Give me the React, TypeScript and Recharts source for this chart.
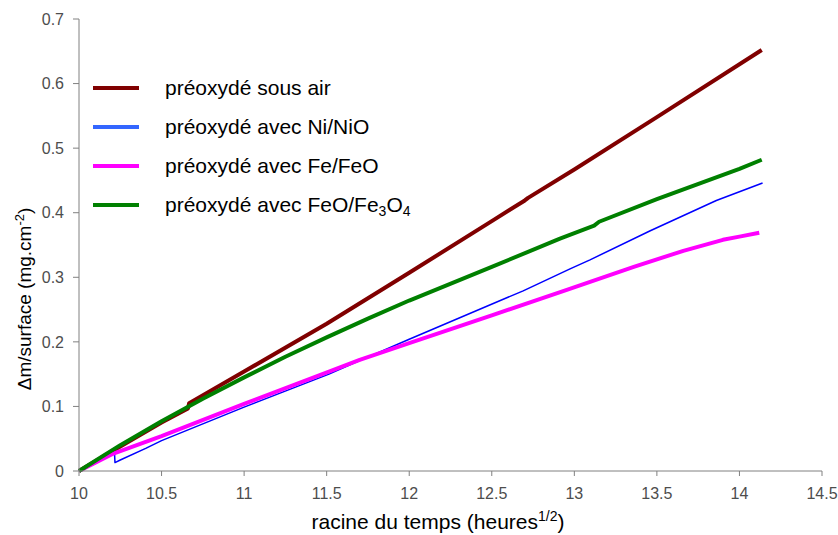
import { Label, Legend, Line, LineChart, XAxis, YAxis } from 'recharts';

const FONT = 'Arial, "Liberation Sans", sans-serif';

const xTicks = [10, 10.5, 11, 11.5, 12, 12.5, 13, 13.5, 14, 14.5];
const yTicks = [0, 0.1, 0.2, 0.3, 0.4, 0.5, 0.6, 0.7];

// préoxydé sous air
const airT = [10, 10.25, 10.5, 10.66, 10.667, 11, 11.5, 12, 12.5, 12.7, 12.72, 13, 13.5, 14.135];
const airM = [0, 0.038, 0.075, 0.097, 0.105, 0.154, 0.228, 0.307, 0.387, 0.419, 0.423, 0.467, 0.548, 0.652];

// préoxydé avec Ni/NiO
const niT = [10, 10.1, 10.19, 10.215, 10.218, 10.25, 10.404, 10.5, 11, 11.514, 11.7, 12, 12.69, 12.974, 13.095, 13.46, 13.86, 14.14];
const niM = [0, 0.012, 0.026, 0.028, 0.013, 0.017, 0.035, 0.047, 0.099, 0.15, 0.171, 0.204, 0.279, 0.313, 0.327, 0.372, 0.419, 0.446];

// préoxydé avec Fe/FeO
const feT = [10, 10.2, 10.5, 11, 11.514, 11.7, 12, 12.5, 12.95, 13.36, 13.66, 13.9, 14.0, 14.12];
const feM = [0, 0.026, 0.054, 0.104, 0.154, 0.172, 0.198, 0.241, 0.28, 0.316, 0.341, 0.358, 0.363, 0.369];

// préoxydé avec FeO/Fe3O4
const feoT = [10, 10.25, 10.5, 10.75, 11, 11.25, 11.5, 11.75, 12, 12.5, 12.913, 13.12, 13.15, 13.5, 14, 14.135];
const feoM = [0, 0.04, 0.077, 0.112, 0.145, 0.177, 0.207, 0.236, 0.264, 0.316, 0.36, 0.38, 0.386, 0.421, 0.468, 0.482];

const toPoints = (t: number[], m: number[]) => t.map((x, i) => ({ t: x, m: m[i] }));

const series = [
  { key: 'air', name: 'préoxydé sous air', data: toPoints(airT, airM), stroke: '#800000', width: 4, swatch: '#800000' },
  { key: 'ni', name: 'préoxydé avec Ni/NiO', data: toPoints(niT, niM), stroke: '#0000FF', width: 1.5, swatch: '#3366FF' },
  { key: 'fe', name: 'préoxydé avec Fe/FeO', data: toPoints(feT, feM), stroke: '#FF00FF', width: 4, swatch: '#FF00FF' },
  { key: 'feo', name: 'préoxydé avec FeO/Fe3O4', data: toPoints(feoT, feoM), stroke: '#008000', width: 4, swatch: '#008000' },
];

// digits in formulas become subscripts
const formula = (s: string) =>
  s.split(/(\d)/).map((part, i) =>
    /^\d$/.test(part) ? (
      <span key={i} style={{ fontSize: 14, verticalAlign: '-0.3em', lineHeight: 0 }}>
        {part}
      </span>
    ) : (
      <span key={i}>{part}</span>
    )
  );

const LegendBox = () => (
  <div style={{ fontFamily: FONT, fontSize: 21, color: '#000' }}>
    {series.map((s) => (
      <div key={s.key} style={{ display: 'flex', alignItems: 'center', height: 39, whiteSpace: 'nowrap' }}>
        <span style={{ display: 'inline-block', width: 46, height: 4, background: s.swatch, marginRight: 26 }} />
        <span style={{ lineHeight: '21px' }}>{formula(s.name)}</span>
      </div>
    ))}
  </div>
);

const App = () => {
  return (
    <div style={{ position: 'fixed', left: 0, top: 0, background: '#fff' }}>
      <LineChart width={838} height={535} margin={{ top: 19, right: 16, bottom: 0, left: 0 }}>
        <XAxis
          dataKey="t"
          type="number"
          domain={[10, 14.5]}
          ticks={xTicks}
          interval={0}
          height={64}
          tickSize={5}
          tickMargin={12}
          stroke="#808080"
          tick={{ fill: '#4d4d4d', fontSize: 16, fontFamily: FONT }}
        >
          <Label
            content={() => (
              <text x={438} y={529} textAnchor="middle" fontSize={21} fontFamily={FONT} fill="#000">
                racine du temps (heures
                <tspan dy={-8} fontSize={14}>1/2</tspan>
                <tspan dy={8}>)</tspan>
              </text>
            )}
          />
        </XAxis>
        <YAxis
          dataKey="m"
          type="number"
          domain={[0, 0.7]}
          ticks={yTicks}
          interval={0}
          width={79}
          tickSize={6}
          tickMargin={9}
          stroke="#808080"
          tick={{ fill: '#4d4d4d', fontSize: 16, fontFamily: FONT }}
        >
          <Label
            content={() => (
              <text
                transform="translate(31,299) rotate(-90)"
                textAnchor="middle"
                fontSize={19}
                fontFamily={FONT}
                fill="#000"
              >
                Δm/surface (mg.cm
                <tspan dy={-7} fontSize={13}>-2</tspan>
                <tspan dy={7}>)</tspan>
              </text>
            )}
          />
        </YAxis>
        <Legend
          layout="horizontal"
          verticalAlign="middle"
          align="center"
          wrapperStyle={{ top: 68, left: 93, width: 'auto', height: 'auto' }}
          content={() => <LegendBox />}
        />
        {series.map((s) => (
          <Line
            key={s.key}
            name={s.name}
            data={s.data}
            dataKey="m"
            type="linear"
            stroke={s.stroke}
            strokeWidth={s.width}
            strokeLinejoin="round"
            dot={false}
            isAnimationActive={false}
          />
        ))}
      </LineChart>
    </div>
  );
};

export default App;
